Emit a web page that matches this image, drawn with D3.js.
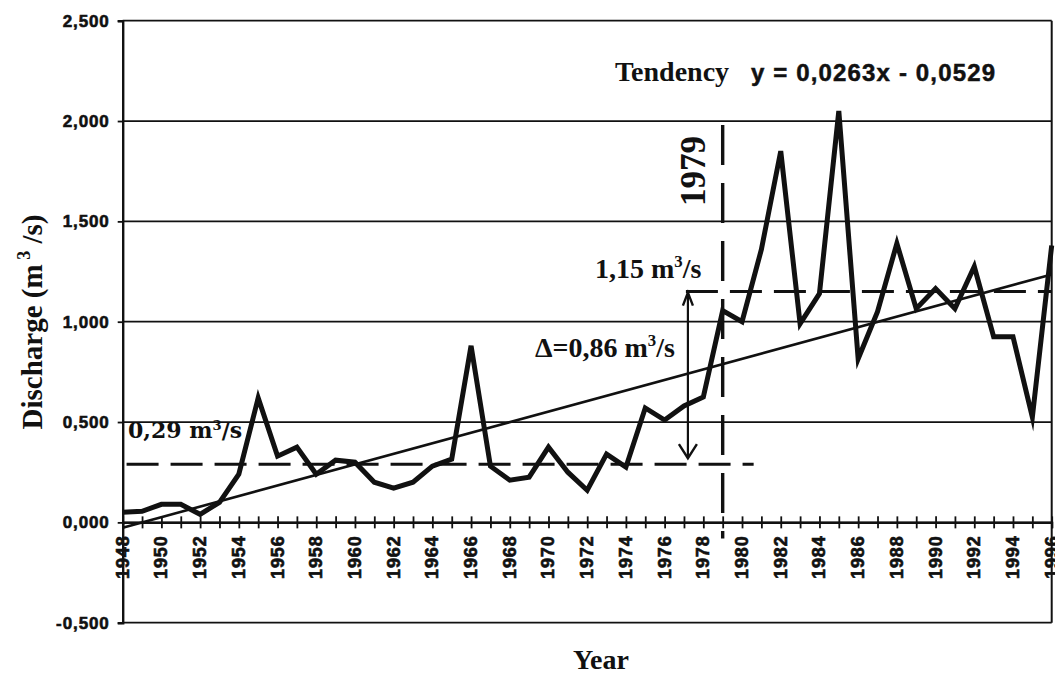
<!DOCTYPE html>
<html>
<head>
<meta charset="utf-8">
<script src="https://cdn.jsdelivr.net/npm/d3@7"></script>
<style>
  html, body { margin: 0; padding: 0; background: #fff; }
  svg { display: block; }
</style>
</head>
<body>
<svg id="chart" width="1055" height="675"></svg>
<script>
// Annual mean discharge, 1948–1996
const years = [1948, 1949, 1950, 1951, 1952, 1953, 1954, 1955, 1956, 1957,
               1958, 1959, 1960, 1961, 1962, 1963, 1964, 1965, 1966, 1967,
               1968, 1969, 1970, 1971, 1972, 1973, 1974, 1975, 1976, 1977,
               1978, 1979, 1980, 1981, 1982, 1983, 1984, 1985, 1986, 1987,
               1988, 1989, 1990, 1991, 1992, 1993, 1994, 1995, 1996];
const discharge = [0.05, 0.055, 0.09, 0.09, 0.04, 0.10, 0.24, 0.62, 0.33, 0.375,
                   0.24, 0.31, 0.30, 0.20, 0.17, 0.20, 0.28, 0.315, 0.88, 0.28,
                   0.21, 0.225, 0.375, 0.25, 0.16, 0.34, 0.275, 0.57, 0.51, 0.58,
                   0.625, 1.055, 1.00, 1.36, 1.85, 0.99, 1.14, 2.05, 0.815, 1.05,
                   1.39, 1.065, 1.165, 1.065, 1.275, 0.925, 0.925, 0.525, 1.38];

// Linear trend: y = 0,0263x - 0,0529 (x = 1 for the first year)
const trendSlope = 0.0263;
const trendIntercept = -0.0529;

// Period means and the break year
const meanBefore = 0.29;
const meanAfter = 1.15;
const meanBeforeSpan = [1948.2, 1980.6];
const meanAfterSpan = [1977.1, 1996];
const breakYear = 1979;
const breakSpan = [1.98, -0.08];

const yTicks = [-0.5, 0, 0.5, 1.0, 1.5, 2.0, 2.5];
const xLabelYears = [1948, 1950, 1952, 1954, 1956, 1958, 1960, 1962, 1964, 1966,
                     1968, 1970, 1972, 1974, 1976, 1978, 1980, 1982, 1984, 1986,
                     1988, 1990, 1992, 1994, 1996];

const svg = d3.select("#chart");
const plotLeft = 122.7, plotRight = 1051.7, plotTop = 20.7, plotBottom = 622.7;

const x = d3.scaleLinear().domain([1948, 1996]).range([plotLeft, plotRight]);
const y = d3.scaleLinear().domain([-0.5, 2.5]).range([plotBottom, plotTop]);

const SERIF = "'Liberation Serif', 'Times New Roman', serif";
const SANS = "'Liberation Sans', Arial, sans-serif";
const fmt = v => v.toFixed(3).replace(".", ",");

// Horizontal gridlines
svg.append("g")
  .selectAll("line")
  .data(yTicks)
  .join("line")
  .attr("x1", plotLeft).attr("x2", plotRight)
  .attr("y1", d => y(d)).attr("y2", d => y(d))
  .attr("stroke", "#111").attr("stroke-width", 1.7);

// Right border
svg.append("line")
  .attr("x1", plotRight).attr("x2", plotRight)
  .attr("y1", plotTop).attr("y2", plotBottom)
  .attr("stroke", "#111").attr("stroke-width", 2);

// Y axis
const yAxis = svg.append("g")
  .attr("transform", `translate(${plotLeft},0)`)
  .call(d3.axisLeft(y).tickValues(yTicks).tickFormat(fmt).tickSize(5).tickPadding(8));
yAxis.select(".domain").attr("stroke", "#111").attr("stroke-width", 2.4);
yAxis.selectAll(".tick line").attr("stroke", "#111").attr("stroke-width", 1.8);
yAxis.selectAll(".tick text")
  .attr("font-family", SANS).attr("font-weight", "bold")
  .attr("font-size", 17).attr("letter-spacing", 0.9).attr("fill", "#111")
  .attr("stroke", "#111").attr("stroke-width", 0.6);

// X axis at zero: a tick every year crossing the line
const xAxis = svg.append("g")
  .attr("transform", `translate(0,${y(0)})`)
  .call(d3.axisBottom(x).tickValues(years).tickFormat("").tickSize(6));
xAxis.select(".domain").attr("stroke", "#111").attr("stroke-width", 2.2);
xAxis.selectAll(".tick line").attr("y1", -6).attr("stroke", "#111").attr("stroke-width", 1.8);

// Year labels, rotated
svg.append("g")
  .selectAll("text")
  .data(xLabelYears)
  .join("text")
  .attr("transform", d => `translate(${x(d)},${y(0) + 13}) rotate(-90)`)
  .attr("text-anchor", "end")
  .attr("dominant-baseline", "central")
  .attr("font-family", SANS).attr("font-weight", "bold")
  .attr("font-size", 18).attr("letter-spacing", 0.9).attr("fill", "#111")
  .attr("stroke", "#111").attr("stroke-width", 0.6)
  .text(d => d);

// Trend line
const trend = years.map((yr, i) => ({ yr, v: trendSlope * (i + 1) + trendIntercept }));
svg.append("path")
  .datum([trend[0], trend[trend.length - 1]])
  .attr("fill", "none").attr("stroke", "#111").attr("stroke-width", 2.6)
  .attr("d", d3.line().x(d => x(d.yr)).y(d => y(d.v)));

// Period mean lines (dashed)
const dashStyle = sel => sel.attr("stroke", "#111").attr("stroke-width", 3)
  .attr("stroke-dasharray", "32,12").attr("fill", "none");
svg.append("line")
  .attr("x1", x(meanBeforeSpan[0])).attr("x2", x(meanBeforeSpan[1]))
  .attr("y1", y(meanBefore)).attr("y2", y(meanBefore)).call(dashStyle);
svg.append("line")
  .attr("x1", x(meanAfterSpan[0])).attr("x2", x(meanAfterSpan[1]))
  .attr("y1", y(meanAfter)).attr("y2", y(meanAfter)).call(dashStyle);

// Break year (dashed vertical)
svg.append("line")
  .attr("x1", x(breakYear)).attr("x2", x(breakYear))
  .attr("y1", y(breakSpan[0])).attr("y2", y(breakSpan[1]))
  .attr("stroke", "#111").attr("stroke-width", 3.4)
  .attr("stroke-dasharray", "40,18");

// Discharge series
svg.append("path")
  .datum(years.map((yr, i) => ({ yr, v: discharge[i] })))
  .attr("fill", "none").attr("stroke", "#111").attr("stroke-width", 5)
  .attr("stroke-linejoin", "miter").attr("stroke-miterlimit", 6)
  .attr("d", d3.line().x(d => x(d.yr)).y(d => y(d.v)));

// Double arrow marking the difference between the two means
const arrowX = x(meanAfterSpan[0]) + 2;
const yTop = y(meanAfter), yBot = y(meanBefore);
svg.append("line")
  .attr("x1", arrowX).attr("x2", arrowX).attr("y1", yTop + 1).attr("y2", yBot - 6)
  .attr("stroke", "#111").attr("stroke-width", 2.2);
svg.append("path")
  .attr("d", `M${arrowX - 5},${yTop + 14} L${arrowX},${yTop + 1} L${arrowX + 5},${yTop + 14}`)
  .attr("fill", "none").attr("stroke", "#111").attr("stroke-width", 2.4);
svg.append("path")
  .attr("d", `M${arrowX - 9},${yBot - 20} L${arrowX},${yBot - 6} L${arrowX + 9},${yBot - 20}`)
  .attr("fill", "none").attr("stroke", "#111").attr("stroke-width", 2.4);

// Annotation text helper with a superscript
function unitLabel(xp, yp, main, size, family) {
  const t = svg.append("text")
    .attr("x", xp).attr("y", yp)
    .attr("font-family", family).attr("font-weight", "bold")
    .attr("font-size", size).attr("fill", "#111");
  t.append("tspan").text(main + " m");
  t.append("tspan").attr("font-size", size * 0.6).attr("dy", -size * 0.38).text("3");
  t.append("tspan").attr("dy", size * 0.38).text("/s");
  return t;
}
unitLabel(128, 438, "0,29", 22, "'DejaVu Serif', serif");
unitLabel(535, 357, "Δ=0,86", 28, SERIF);
unitLabel(595, 278, "1,15", 28, SERIF);

// Break year label
svg.append("text")
  .attr("transform", `translate(705,171) rotate(-90)`)
  .attr("text-anchor", "middle")
  .attr("font-family", SERIF).attr("font-weight", "bold")
  .attr("font-size", 35).attr("fill", "#111")
  .text(breakYear);

// Trend equation
svg.append("text")
  .attr("x", 615).attr("y", 81)
  .attr("font-family", SERIF).attr("font-weight", "bold")
  .attr("font-size", 28).attr("fill", "#111")
  .text("Tendency");
svg.append("text")
  .attr("x", 751).attr("y", 81)
  .attr("font-family", SANS).attr("font-weight", "bold")
  .attr("font-size", 24).attr("fill", "#111")
  .attr("stroke", "#111").attr("stroke-width", 0.5)
  .attr("textLength", 244).attr("lengthAdjust", "spacing")
  .text("y = 0,0263x - 0,0529");

// Axis titles
const yTitle = svg.append("text")
  .attr("transform", `translate(42,322) rotate(-90)`)
  .attr("text-anchor", "middle")
  .attr("font-family", SERIF).attr("font-weight", "bold")
  .attr("font-size", 29).attr("fill", "#111");
yTitle.append("tspan").text("Discharge (m");
yTitle.append("tspan").attr("font-size", 18).attr("dy", -12).text(" 3");
yTitle.append("tspan").attr("dy", 12).text(" /s)");

svg.append("text")
  .attr("x", 601).attr("y", 669)
  .attr("text-anchor", "middle")
  .attr("font-family", SERIF).attr("font-weight", "bold")
  .attr("font-size", 28).attr("fill", "#111")
  .text("Year");
</script>
</body>
</html>
